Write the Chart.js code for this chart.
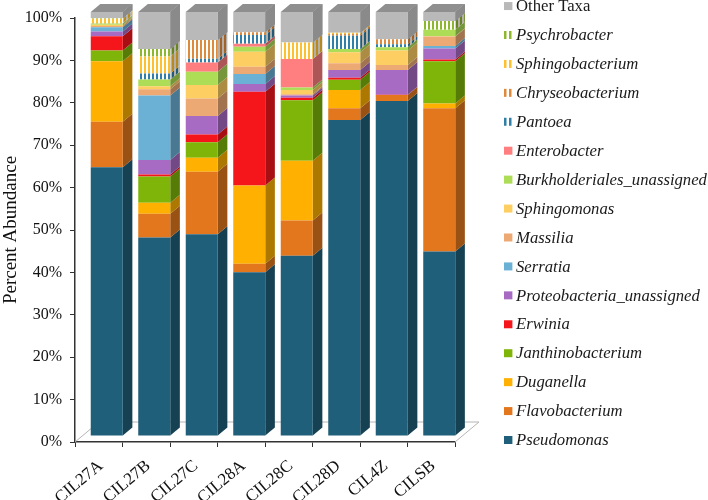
<!DOCTYPE html>
<html>
<head>
<meta charset="utf-8">
<style>html,body{margin:0;padding:0;background:#fff}canvas{display:block}</style>
<script src="https://cdn.jsdelivr.net/npm/chart.js@4"></script>
</head>
<body>
<canvas id="c" width="708" height="500"></canvas>
<script>
const categories = ['CIL27A','CIL27B','CIL27C','CIL28A','CIL28C','CIL28D','CIL4Z','CILSB'];
const pseudomonas = [63.4,46.8,47.6,38.6,42.5,74.5,79.0,43.5];
const flavobacterium = [10.7,5.6,14.7,2.0,8.3,2.8,1.4,33.8];
const duganella = [14.3,2.6,3.3,18.5,14.1,4.3,0,1.1];
const janthinobacterium = [2.5,6.2,3.7,0,14.3,2.4,0,10.0];
const erwinia = [3.4,0.5,1.8,22.1,0.6,0.5,0.1,0.4];
const proteobacteria = [1.1,3.4,4.4,1.8,0.5,1.8,5.8,2.6];
const serratia = [1.0,15.2,0,2.4,0,0,0,0.6];
const massilia = [0.3,1.5,4.1,1.7,0.3,1.6,1.2,2.2];
const sphingomonas = [0.3,0.7,3.2,3.5,1.0,2.6,3.4,0.1];
const burkholderiales = [0.3,1.6,3.1,1.2,0.6,0.8,0.8,1.5];
const enterobacter = [0,0,2.2,0.7,6.7,0,0,0];
const pantoea = [0,1.4,0.9,2.1,0,3.1,0.7,0];
const chryseobacterium = [0.1,0,4.4,0.6,0,0.4,1.2,0];
const sphingobacterium = [1.0,4.0,0,0,3.9,0.3,0,0];
const psychrobacter = [0.1,1.8,0,0,0,0,0,2.1];
const otherTaxa = [1.5,8.7,6.6,4.8,7.2,4.9,6.4,2.1];

const yTicks = [0,10,20,30,40,50,60,70,80,90,100];

const ctx0=document.getElementById('c').getContext('2d');
function pat(color,bg){
  const p=document.createElement('canvas');p.width=4;p.height=4;
  const g=p.getContext('2d');g.fillStyle=bg;g.fillRect(0,0,4,4);
  g.fillStyle=color;g.fillRect(0,0,2,4);
  return ctx0.createPattern(p,'repeat');
}
function dark(hex,f){
  const n=parseInt(hex.slice(1),16);
  const c=[n>>16,(n>>8)&255,n&255].map(v=>Math.round(v*f));
  return 'rgb('+c.join(',')+')';
}
function series(label,data,color,striped){
  return {label,data,color,striped,
    backgroundColor:striped?pat(color,'#ffffff'):color,
    sideColor:striped?pat(dark(color,0.72),'#b4b0a8'):dark(color,0.68),
    borderWidth:0,categoryPercentage:1,barPercentage:0.674};
}
const datasets=[
  series('Pseudomonas',pseudomonas,'#205F7A'),
  series('Flavobacterium',flavobacterium,'#E2771E'),
  series('Duganella',duganella,'#FFB000'),
  series('Janthinobacterium',janthinobacterium,'#7FB509'),
  series('Erwinia',erwinia,'#F5161C'),
  series('Proteobacteria_unassigned',proteobacteria,'#A86BC4'),
  series('Serratia',serratia,'#6BB1D6'),
  series('Massilia',massilia,'#EDA974'),
  series('Sphingomonas',sphingomonas,'#FDCE62'),
  series('Burkholderiales_unassigned',burkholderiales,'#ADDD57'),
  series('Enterobacter',enterobacter,'#FF7F80'),
  series('Pantoea',pantoea,'#2F7FA8',true),
  series('Chryseobacterium',chryseobacterium,'#DD8A3C',true),
  series('Sphingobacterium',sphingobacterium,'#FDC02E',true),
  series('Psychrobacter',psychrobacter,'#8DB82E',true),
  series('Other Taxa',otherTaxa,'#B9B9B9')
];
const DX=9.6,DY=8,SHIFT_X=8,SHIFT_Y=-6;
const depth3d={
  id:'depth3d',
  beforeDatasetsDraw(chart){
    const c=chart.ctx,a=chart.chartArea;
    c.save();
    c.strokeStyle='#b5b5b5';c.lineWidth=1;
    c.beginPath();
    c.moveTo(a.left,a.bottom);c.lineTo(a.left+24,a.bottom-20);
    c.lineTo(a.right+24,a.bottom-20);c.lineTo(a.right,a.bottom);
    c.stroke();
    c.restore();
    c.save();
    c.translate(SHIFT_X,SHIFT_Y);
    chart.data.datasets.forEach((d,i)=>{
      chart.getDatasetMeta(i).data.forEach((b,j)=>{
        if(!d.data[j])return;
        const r=b.x+b.width/2;
        c.fillStyle=d.sideColor;
        c.beginPath();
        c.moveTo(r,b.y);c.lineTo(r+DX,b.y-DY);c.lineTo(r+DX,b.base-DY);c.lineTo(r,b.base);
        c.closePath();c.fill();
        if(i===chart.data.datasets.length-1){
          const l=b.x-b.width/2;
          c.fillStyle='#8F8F8F';
          c.beginPath();
          c.moveTo(l,b.y);c.lineTo(l+DX,b.y-DY);c.lineTo(r+DX,b.y-DY);c.lineTo(r,b.y);
          c.closePath();c.fill();
          c.fillStyle='#8A8A8A';
          c.beginPath();
          c.moveTo(r,b.y);c.lineTo(r+DX,b.y-DY);c.lineTo(r+DX,b.base-DY);c.lineTo(r,b.base);
          c.closePath();c.fill();
        }
      });
    });
  },
  afterDatasetsDraw(chart){chart.ctx.restore();}
};
const legend3d={
  id:'legend3d',
  afterDraw(chart){
    const c=chart.ctx,ds=chart.data.datasets,n=ds.length;
    c.save();
    c.textBaseline='middle';c.textAlign='left';
    for(let i=0;i<n;i++){
      const d=ds[i];
      const y=440-i*28.93;
      if(d.striped){
        c.fillStyle=d.color;
        c.fillRect(504,y-4,2.5,8);c.fillRect(509,y-4,2.5,8);
      }else{
        c.fillStyle=d.color;
        c.fillRect(504,y-4,8.4,8);
      }
      c.fillStyle='#1a1a1a';
      c.font=(d.label==='Other Taxa'?'':'italic ')+'16.7px "Liberation Serif"';
      c.fillText(d.label,516,y+0.8);
    }
    c.restore();
  }
};
const tickFont={family:'"Liberation Serif"',size:16};
new Chart(document.getElementById('c'),{
  type:'bar',
  data:{labels:categories,datasets},
  plugins:[depth3d,legend3d],
  options:{
    responsive:false,animation:false,devicePixelRatio:1,
    layout:{padding:{left:0,right:253,top:18,bottom:0}},
    plugins:{legend:{display:false},tooltip:{enabled:false},title:{display:false}},
    datasets:{bar:{clip:false}},
    scales:{
      x:{stacked:true,
        grid:{drawOnChartArea:false,drawTicks:true,tickLength:5,color:'#333',offset:true},
        border:{color:'#333',width:1.5},
        ticks:{font:{family:'"Liberation Serif"',size:17},color:'#111',maxRotation:40,minRotation:40,autoSkip:false,padding:9,labelOffset:2},
        afterFit(s){s.height=58;}
      },
      y:{stacked:true,min:0,max:100,
        afterBuildTicks(s){s.ticks=yTicks.map(v=>({value:v}));},
        grid:{drawOnChartArea:false,drawTicks:true,tickLength:5,color:'#333'},
        border:{color:'#333',width:1.5},
        ticks:{font:tickFont,color:'#111',padding:8,callback:v=>v+'%'},
        title:{display:true,text:'Percent Abundance',color:'#111',font:{family:'"Liberation Serif"',size:19},padding:{top:0,bottom:0}},
        afterFit(s){s.width=75;}
      }
    }
  }
});
</script>
</body>
</html>
